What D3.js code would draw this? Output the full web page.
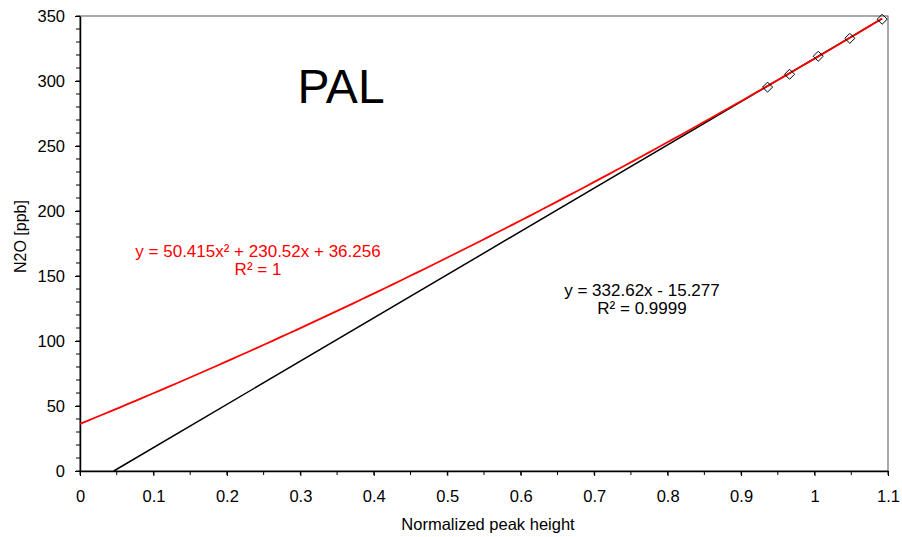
<!DOCTYPE html>
<html>
<head>
<meta charset="utf-8">
<script src="https://cdn.jsdelivr.net/npm/d3@7"></script>
<style>
  body { margin: 0; background: #fff; }
  svg { font-family: Arial, "Liberation Sans", sans-serif; }
</style>
</head>
<body>
<div id="chart"></div>
<script>
// 数据
const peakHeight = [0.936, 0.966, 1.005, 1.048, 1.092]
const n2oPpb = [295.3, 305.2, 319.0, 332.8, 347.5]
// 趋势线系数 (二次: a, b, c; 线性: m, k)
const quadCoef = [50.415, 230.52, 36.256]
const linCoef = [332.62, -15.277]
const quadLabel = ['y = 50.415x² + 230.52x + 36.256', 'R² = 1']
const linLabel = ['y = 332.62x - 15.277', 'R² = 0.9999']
const xTicks = [0, 0.1, 0.2, 0.3, 0.4, 0.5, 0.6, 0.7, 0.8, 0.9, 1, 1.1]
const yTicks = [0, 50, 100, 150, 200, 250, 300, 350]

const width = 902, height = 537
const margin = { top: 16, right: 14, bottom: 66, left: 80 }

const svg = d3.select('#chart').append('svg')
  .attr('width', width)
  .attr('height', height)

const x = d3.scaleLinear().domain([0, 1.1]).range([margin.left, width - margin.right])
const y = d3.scaleLinear().domain([0, 350]).range([height - margin.bottom, margin.top])

// 绘图区边框
svg.append('rect')
  .attr('x', x(0)).attr('y', y(350))
  .attr('width', x(1.1) - x(0)).attr('height', y(0) - y(350))
  .attr('fill', 'none').attr('stroke', '#555').attr('stroke-width', 1)

// 次刻度
const xMinor = d3.range(0, 1.1001, 0.05)
const yMinor = d3.range(0, 350.1, 10)
svg.append('g').selectAll('line').data(xMinor).join('line')
  .attr('x1', d => x(d)).attr('x2', d => x(d))
  .attr('y1', y(0)).attr('y2', y(0) + 4)
  .attr('stroke', '#000')
svg.append('g').selectAll('line').data(yMinor).join('line')
  .attr('y1', d => y(d)).attr('y2', d => y(d))
  .attr('x1', x(0)).attr('x2', x(0) - 4)
  .attr('stroke', '#000')

const xAxis = svg.append('g')
  .attr('transform', `translate(0,${y(0)})`)
  .call(d3.axisBottom(x).tickValues(xTicks).tickFormat(d3.format('')).tickSize(5).tickSizeOuter(0).tickPadding(14))
const yAxis = svg.append('g')
  .attr('transform', `translate(${x(0)},0)`)
  .call(d3.axisLeft(y).tickValues(yTicks).tickSize(5).tickSizeOuter(0).tickPadding(10))

for (const ax of [xAxis, yAxis]) {
  ax.select('.domain').attr('stroke', '#000').attr('stroke-width', 1.5)
  ax.selectAll('.tick line').attr('stroke', '#000')
  ax.selectAll('text').attr('font-size', 16.5).attr('fill', '#000')
    .attr('font-family', 'Arial, "Liberation Sans", sans-serif')
}

// 趋势线
const quad = v => quadCoef[0] * v * v + quadCoef[1] * v + quadCoef[2]
const lin = v => linCoef[0] * v + linCoef[1]
const xEnd = d3.max(peakHeight)
const xStartLin = -linCoef[1] / linCoef[0]

const line = d3.line().x(d => x(d[0])).y(d => y(d[1]))

svg.append('path')
  .datum([[xStartLin, lin(xStartLin)], [xEnd, lin(xEnd)]])
  .attr('d', line)
  .attr('fill', 'none').attr('stroke', '#000').attr('stroke-width', 1.5)

svg.append('path')
  .datum(d3.range(0, xEnd + 1e-9, xEnd / 100).map(v => [v, quad(v)]))
  .attr('d', line)
  .attr('fill', 'none').attr('stroke', '#ff0000').attr('stroke-width', 1.8)

// 数据点 (菱形)
svg.append('g').selectAll('path').data(peakHeight).join('path')
  .attr('transform', (d, i) => `translate(${x(d)},${y(n2oPpb[i])})`)
  .attr('d', d3.symbol(d3.symbolDiamond2, 64))
  .attr('fill', 'none').attr('stroke', '#000').attr('stroke-width', 1)

// 标题与标签
svg.append('text')
  .attr('x', 341).attr('y', 103)
  .attr('text-anchor', 'middle').attr('font-size', 48)
  .text('PAL')

svg.append('text')
  .attr('x', 488).attr('y', 530)
  .attr('text-anchor', 'middle').attr('font-size', 16.5)
  .text('Normalized peak height')

svg.append('text')
  .attr('transform', `translate(26,${(y(0) + y(350)) / 2 - 7}) rotate(-90)`)
  .attr('text-anchor', 'middle').attr('font-size', 16)
  .text('N2O [ppb]')

svg.append('g').selectAll('text').data(quadLabel).join('text')
  .attr('x', 258).attr('y', (d, i) => 257 + i * 18)
  .attr('text-anchor', 'middle').attr('font-size', 17).attr('fill', '#ff0000')
  .text(d => d)

svg.append('g').selectAll('text').data(linLabel).join('text')
  .attr('x', 642).attr('y', (d, i) => 296 + i * 18)
  .attr('text-anchor', 'middle').attr('font-size', 17).attr('fill', '#000')
  .text(d => d)
</script>
</body>
</html>
